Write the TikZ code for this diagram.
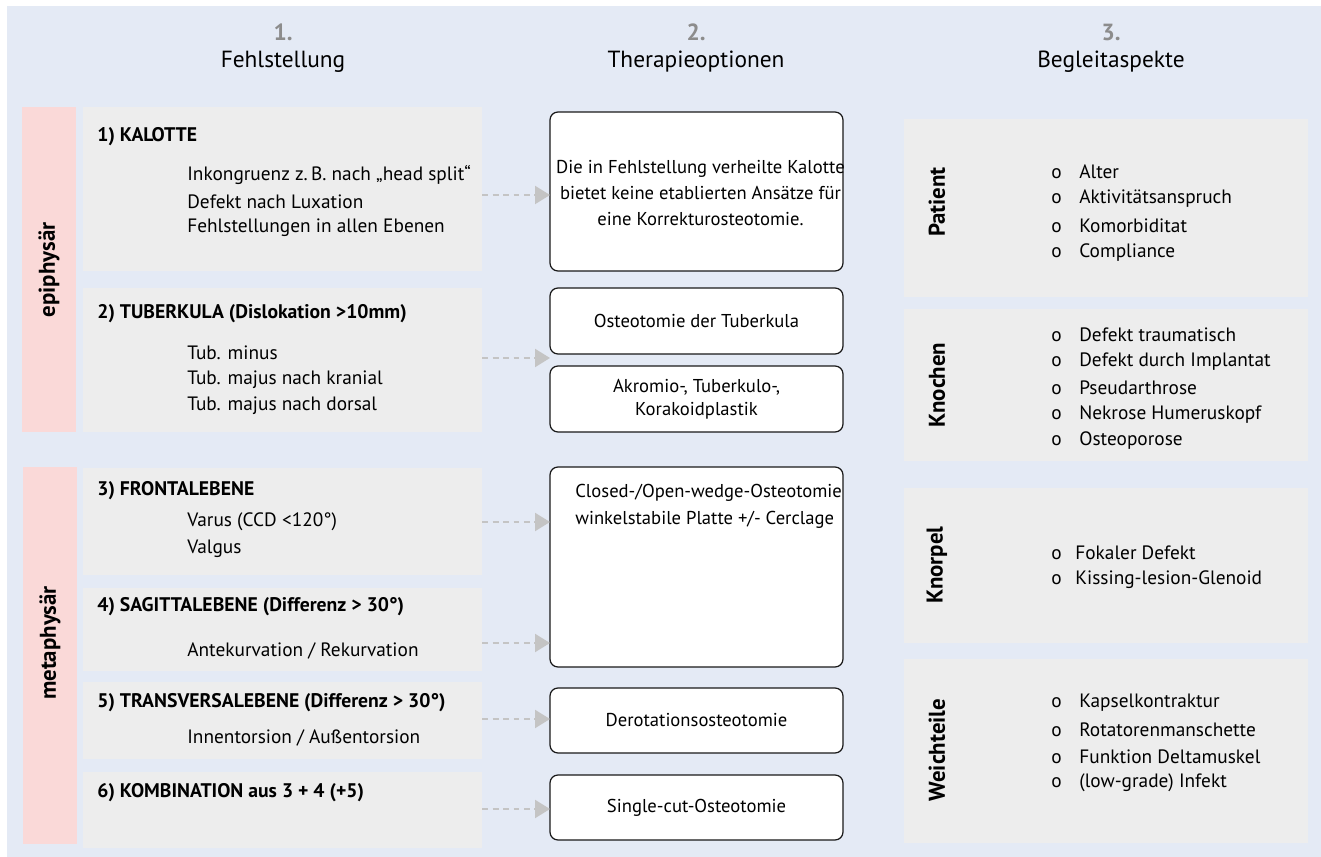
\documentclass[tikz,border=0pt]{standalone}
\usepackage{fontspec}
\setmainfont{PT Sans}
\usetikzlibrary{arrows.meta,positioning,fit,calc}

\definecolor{bgblue}{HTML}{E4EAF5}
\definecolor{boxgrey}{HTML}{EDEDED}
\definecolor{barpink}{HTML}{FAD9D8}
\definecolor{numgrey}{HTML}{8C8C8C}
\definecolor{arrgrey}{HTML}{C4C4C4}

\newcommand\bul{\makebox[0.56cm][l]{o}}

\begin{document}
\begin{tikzpicture}[x=0.02cm,y=-0.02cm,
  greybox/.style={fill=boxgrey,inner sep=0,outer sep=0},
  pinkbar/.style={fill=barpink,inner sep=0,outer sep=0},
  optbox/.style={draw=black!90,line width=0.7pt,fill=white,rounded corners=0.16cm,inner sep=0,outer sep=0},
  txt/.style={font=\fontsize{11}{15}\selectfont,inner sep=0,anchor=west},
  ttl/.style={txt,font=\fontsize{11.2}{15}\selectfont\bfseries},
  opt/.style={font=\fontsize{10.6}{15}\selectfont,inner sep=0},
  hd/.style={font=\fontsize{13.3}{15}\selectfont,inner sep=0},
  num/.style={hd,font=\fontsize{13.3}{15}\selectfont\bfseries,text=numgrey},
  side/.style={font=\fontsize{13}{15}\selectfont\bfseries,rotate=90,inner sep=0},
  conn/.style={draw=arrgrey,line width=1.2pt,dash pattern=on 0.12cm off 0.09cm,
    -{Triangle[length=0.3cm,width=0.36cm,fill=arrgrey]}}
]
\useasboundingbox (0,0) rectangle (1321,857);
\fill[bgblue] (7,6) rectangle (1321,857);

%headers
\node[num] (n1) at (283,32) {1.};
\node[hd] (h1) at (283,62) {Fehlstellung};
\node[num] (n2) at (696,32) {2.};
\node[hd] (h2) at (696,62) {Therapieoptionen};
\node[num] (n3) at (1111,32) {3.};
\node[hd] (h3) at (1111,62) {Begleitaspekte};

%epiphysaer / metaphysaer
\node[pinkbar,fit={(22,107) (76,432)}] (epi) {};
\node[side] (epil) at (49,270) {epiphysär};
\node[pinkbar,fit={(23,467) (77,844)}] (meta) {};
\node[side] (metal) at (50,643) {metaphysär};

%1) Kalotte
\node[greybox,fit={(83,107) (482,271)}] (k1) {};
\node[ttl] (k1t) at (97,137) {1) KALOTTE};
\foreach\t [count=\i] in {Inkongruenz z.\,B. nach „head split“,Defekt nach Luxation,Fehlstellungen in allen Ebenen}
\node[txt] (k1i\i) at (187,{175+26.5*(\i-1)}) {\t};

%2) Tuberkula
\node[greybox,fit={(83,288) (482,432)}] (k2) {};
\node[ttl] (k2t) at (97,314) {2) TUBERKULA (Dislokation >10mm)};
\foreach\t [count=\i] in {Tub. minus,Tub. majus nach kranial,Tub. majus nach dorsal}
\node[txt] (k2i\i) at (187,{353+26.5*(\i-1)}) {\t};

%3) Frontalebene
\node[greybox,fit={(83,468) (482,575)}] (k3) {};
\node[ttl] (k3t) at (97,491) {3) FRONTALEBENE};
\foreach\t [count=\i] in {Varus (CCD <120°),Valgus}
\node[txt] (k3i\i) at (187,{522+27*(\i-1)}) {\t};

%4) Sagittalebene
\node[greybox,fit={(83,588) (482,671)}] (k4) {};
\node[ttl] (k4t) at (97,607) {4) SAGITTALEBENE (Differenz > 30°)};
\node[txt] (k4i) at (187,651) {Antekurvation / Rekurvation};

%5) Transversalebene
\node[greybox,fit={(83,682) (482,759)}] (k5) {};
\node[ttl] (k5t) at (97,703) {5) TRANSVERSALEBENE (Differenz > 30°)};
\node[txt] (k5i) at (187,738) {Innentorsion / Außentorsion};

%6) Kombination
\node[greybox,fit={(83,772) (482,848)}] (k6) {};
\node[ttl] (k6t) at (97,793) {6) KOMBINATION aus 3 + 4 (+5)};

%Therapieoptionen
\node[optbox,fit={(550,112) (843,271)}] (m1) {};
\node[opt,align=center] (m1t) at ([xshift=0.08cm,yshift=-0.03cm]m1.center)
{Die in Fehlstellung verheilte Kalotte\\bietet keine etablierten Ansätze für\\eine Korrekturosteotomie.};
\node[optbox,fit={(550,288) (843,354)}] (m2) {};
\node[opt] (m2t) at (m2.center) {Osteotomie der Tuberkula};
\node[optbox,fit={(550,366) (843,432)}] (m3) {};
\node[opt,align=center,font=\fontsize{10.6}{13}\selectfont] (m3t) at (m3.center) {Akromio-, Tuberkulo-,\\Korakoidplastik};
\node[optbox,fit={(550,467) (843,667)}] (m4) {};
\node[opt,anchor=west] (m4a) at (575,493) {Closed-/Open-wedge-Osteotomie};
\node[opt,anchor=west] (m4b) at (575,520) {winkelstabile Platte +/- Cerclage};
\node[optbox,fit={(550,688) (843,753)}] (m5) {};
\node[opt] (m5t) at (m5.center) {Derotationsosteotomie};
\node[optbox,fit={(550,775) (843,840)}] (m6) {};
\node[opt] (m6t) at (m6.center) {Single-cut-Osteotomie};

% arrows
\draw[conn] (k1.east) ++(0,6) coordinate (a1) -- (a1 -| m1.west);
\draw[conn] (k2.east) ++(0,-2) coordinate (a2) -- (a2 -| m2.west);
\draw[conn] (k3.east) ++(0,0.5) coordinate (a3) -- (a3 -| m4.west);
\draw[conn] (k4.east) ++(0,13.5) coordinate (a4) -- (a4 -| m4.west);
\draw[conn] (k5.east) ++(0,-1.5) coordinate (a5) -- (a5 -| m5.west);
\draw[conn] (k6.east) ++(0,-1) coordinate (a6) -- (a6 -| m6.west);

%Patient
\node[greybox,fit={(904,119) (1308,297)}] (r1) {};
\node[side] (r1l) at (937,202) {Patient};
\foreach\t [count=\i] in {Alter,Aktivitätsanspruch,Komorbiditat,Compliance}
\node[txt] (r1i\i) at (1051,{172+26.7*(\i-1)}) {\bul\t};

%Knochen
\node[greybox,fit={(904,309) (1308,461)}] (r2) {};
\node[side] (r2l) at (937,385) {Knochen};
\foreach\t [count=\i] in {Defekt traumatisch,Defekt durch Implantat,Pseudarthrose,Nekrose Humeruskopf,Osteoporose}
\node[txt] (r2i\i) at (1051,{335+26.5*(\i-1)}) {\bul\t};

%Knorpel
\node[greybox,fit={(904,488) (1308,643)}] (r3) {};
\node[side] (r3l) at (937,565) {Knorpel};
\foreach\t [count=\i] in {Fokaler Defekt,Kissing-lesion-Glenoid}
\node[txt] (r3i\i) at (1051,{553+26.5*(\i-1)}) {\makebox[0.48cm][l]{o}\t};

%Weichteile
\node[greybox,fit={(904,659) (1308,843)}] (r4) {};
\node[side] (r4l) at (937,750) {Weichteile};
\foreach\t [count=\i] in {Kapselkontraktur,Rotatorenmanschette,Funktion Deltamuskel,{(low-grade) Infekt}}
\node[txt] (r4i\i) at (1051,{703+26.7*(\i-1)}) {\bul\t};
\end{tikzpicture}
\end{document}
